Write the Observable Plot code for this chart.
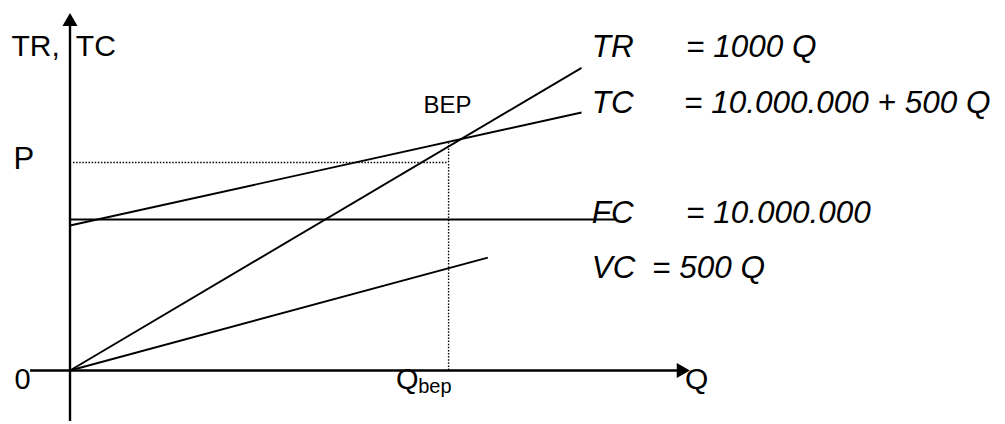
<!DOCTYPE html>
<html>
<head>
<meta charset="utf-8">
<script src="https://cdn.jsdelivr.net/npm/d3@7"></script>
<script src="https://cdn.jsdelivr.net/npm/@observablehq/plot@0.6"></script>
<style>
  html, body { margin: 0; padding: 0; background: #fff; }
  #chart svg { display: block; }
</style>
</head>
<body>
<div id="chart"></div>
<script>
// Curves (Q in thousands, value in millions)
const curves = ["TR", "TC", "FC", "VC"];
const qStart = [0, 0, 0, 0];
const qEnd = [26.2, 26.2, 28.0, 21.4];
const vStart = [0, 12.55, 13.07, 0];
const vEnd = [26.2, 22.34, 13.07, 9.78];

// Equation labels
const curveNames = ["TR", "TC", "FC", "VC"];
const equations = ["= 1000 Q", "= 10.000.000 + 500 Q", "= 10.000.000", "= 500 Q"];
const labelV = [27.13, 22.27, 12.73, 7.97];
const eqQ = [31.55, 31.45, 31.55, 29.81];

// Break-even guides
const pLevel = [18.01];
const qBep = [19.39];
const bepTop = [19.65];

// Axes extents
const xAxisExt = [-2.02, 31.3];
const yAxisExt = [-4.42, 30.2];

const FONT = "'Liberation Sans', Arial, Helvetica, sans-serif";
const idx = curves.map((_, i) => i);

const chart = Plot.plot({
  width: 1005,
  height: 424,
  margin: 0,
  style: { fontFamily: FONT, background: "white", color: "black" },
  x: { domain: [-3.5596, 47.913], axis: null },
  y: { domain: [-4.675, 32.035], axis: null },
  marks: [
    // dotted guides
    Plot.ruleY(pLevel, { x1: 0.18, x2: qBep[0], stroke: "black", strokeWidth: 1.4, strokeDasharray: "1.5,1.6" }),
    Plot.ruleX(qBep, { y1: 0, y2: bepTop[0], stroke: "black", strokeWidth: 1.4, strokeDasharray: "1.5,1.6" }),
    // axes
    Plot.ruleY([0], { x1: xAxisExt[0], x2: xAxisExt[1], stroke: "black", strokeWidth: 2.4 }),
    Plot.ruleX([0], { y1: yAxisExt[0], y2: yAxisExt[1], stroke: "black", strokeWidth: 2.4 }),
    Plot.dot([0], { x: 0, y: yAxisExt[1], symbol: "triangle", r: 5.6, fill: "black", stroke: null }),
    Plot.dot([0], { x: xAxisExt[1], y: 0, symbol: "triangle", r: 5.6, fill: "black", stroke: null, rotate: 90 }),
    // curves
    Plot.link(idx, {
      x1: i => qStart[i], y1: i => vStart[i],
      x2: i => qEnd[i], y2: i => vEnd[i],
      stroke: "black", strokeWidth: 1.9
    }),
    // curve names and equations
    Plot.text(idx, {
      x: 26.72, y: i => labelV[i], text: i => curveNames[i],
      textAnchor: "start", lineAnchor: "bottom", fontSize: 31.5, fontStyle: "italic", fill: "black"
    }),
    Plot.text(idx, {
      x: i => eqQ[i], y: i => labelV[i], text: i => equations[i],
      textAnchor: "start", lineAnchor: "bottom", fontSize: 31.5, fontStyle: "italic", fill: "black"
    }),
    // axis labels
    Plot.text(["TR,"], { x: -3.0, y: 27.24, text: d => d, textAnchor: "start", lineAnchor: "bottom", fontSize: 30, fill: "black" }),
    Plot.text(["TC"], { x: 0.3, y: 27.24, text: d => d, textAnchor: "start", lineAnchor: "bottom", fontSize: 30, fill: "black" }),
    Plot.text(["P"], { x: -2.9, y: 17.46, text: d => d, textAnchor: "start", lineAnchor: "bottom", fontSize: 31, fill: "black" }),
    Plot.text(["0"], { x: -2.43, y: -1.64, text: d => d, textAnchor: "middle", lineAnchor: "bottom", fontSize: 29, fill: "black" }),
    Plot.text(["Q"], { x: 31.5, y: -1.56, text: d => d, textAnchor: "start", lineAnchor: "bottom", fontSize: 30, fill: "black" }),
    Plot.text(["BEP"], { x: 18.1, y: 22.27, text: d => d, textAnchor: "start", lineAnchor: "bottom", fontSize: 24, fill: "black" }),
    Plot.text(["Q"], { x: 16.7, y: -1.56, text: d => d, textAnchor: "start", lineAnchor: "bottom", fontSize: 29, fill: "black" }),
    Plot.text(["bep"], { x: 17.83, y: -1.99, text: d => d, textAnchor: "start", lineAnchor: "bottom", fontSize: 20, fill: "black" })
  ]
});
document.getElementById("chart").appendChild(chart);
</script>
</body>
</html>
